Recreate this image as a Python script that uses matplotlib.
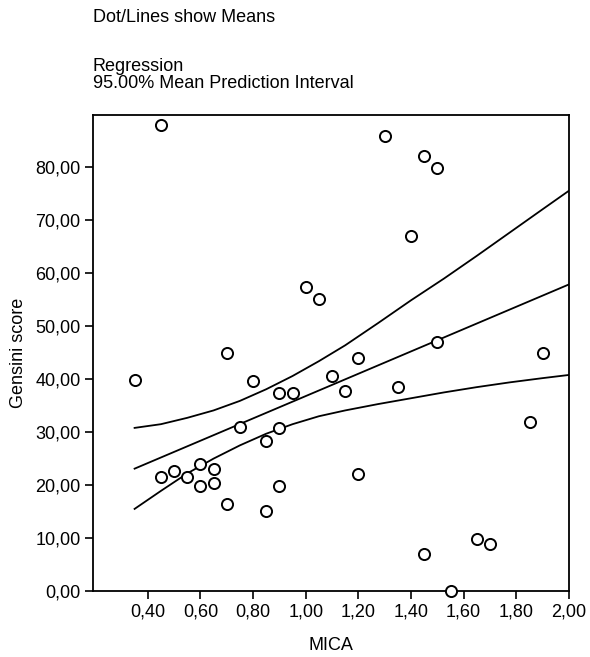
import matplotlib.pyplot as plt

plt.rcParams['font.family'] = ['Liberation Sans', 'DejaVu Sans']

# observed points (MICA, Gensini score)
mica = [0.35, 0.45, 0.45, 0.50, 0.55, 0.60, 0.60, 0.65, 0.65, 0.70, 0.70, 0.75,
        0.80, 0.85, 0.85, 0.90, 0.90, 0.90, 0.95, 1.00, 1.05, 1.10, 1.15, 1.20,
        1.20, 1.30, 1.35, 1.40, 1.45, 1.45, 1.50, 1.50, 1.55, 1.65, 1.70, 1.85, 1.90]
gensini = [39.8, 88.0, 21.5, 22.6, 21.5, 23.9, 19.85, 23.0, 20.4, 45.0, 16.4, 31.0,
           39.7, 28.4, 15.1, 37.3, 30.8, 19.85, 37.4, 57.5, 55.2, 40.6, 37.8, 44.0,
           22.1, 86.0, 38.6, 67.0, 82.2, 6.9, 79.9, 47.0, 0.0, 9.8, 8.9, 32.0, 45.0]

# regression line (straight)
mean_x = [0.35, 2.00]
mean_y = [23.1, 57.9]

# 95% mean prediction interval
band_x = [0.35, 0.45, 0.55, 0.65, 0.75, 0.85, 0.95, 1.05, 1.15, 1.275,
          1.40, 1.525, 1.65, 1.775, 1.90, 2.00]
band_upper = [30.8, 31.5, 32.7, 34.1, 35.9, 38.1, 40.6, 43.4, 46.4, 50.6,
              54.9, 59.0, 63.3, 67.7, 72.1, 75.6]
band_lower = [15.5, 18.9, 22.2, 25.0, 27.5, 29.7, 31.5, 33.0, 34.1, 35.3,
              36.4, 37.5, 38.5, 39.4, 40.2, 40.8]

xticks = [0.40, 0.60, 0.80, 1.00, 1.20, 1.40, 1.60, 1.80, 2.00]
xticklabels = ['0,40', '0,60', '0,80', '1,00', '1,20', '1,40', '1,60', '1,80', '2,00']
yticks = [0, 10, 20, 30, 40, 50, 60, 70, 80]
yticklabels = ['0,00', '10,00', '20,00', '30,00', '40,00', '50,00', '60,00', '70,00', '80,00']

fig = plt.figure(figsize=(5.9, 6.57), dpi=100)
ax = fig.add_axes([0.1576, 0.1005, 0.8068, 0.7245])

ax.plot(mean_x, mean_y, color='black', lw=1.3)
ax.plot(band_x, band_upper, color='black', lw=1.3)
ax.plot(band_x, band_lower, color='black', lw=1.3)
ax.plot(mica, gensini, linestyle='none', marker='o', ms=8, mfc='white',
        mec='black', mew=1.4, clip_on=False, zorder=3)

ax.set_xlim(0.192, 2.0)
ax.set_ylim(0, 89.9)
ax.set_xticks(xticks)
ax.set_xticklabels(xticklabels)
ax.set_yticks(yticks)
ax.set_yticklabels(yticklabels)
ax.tick_params(direction='out', length=6, width=1.2, labelsize=13, pad=3)
for s in ax.spines.values():
    s.set_linewidth(1.3)

ax.set_xlabel('MICA', fontsize=13, labelpad=12)
ax.set_ylabel('Gensini score', fontsize=13, labelpad=6)

fig.text(0.1576, 0.974, 'Dot/Lines show Means', fontsize=13, va='center', ha='left')
fig.text(0.1576, 0.8995, 'Regression', fontsize=13, va='center', ha='left')
fig.text(0.1576, 0.8735, '95.00% Mean Prediction Interval', fontsize=13, va='center', ha='left')

fig.savefig('out.png', dpi=100)
